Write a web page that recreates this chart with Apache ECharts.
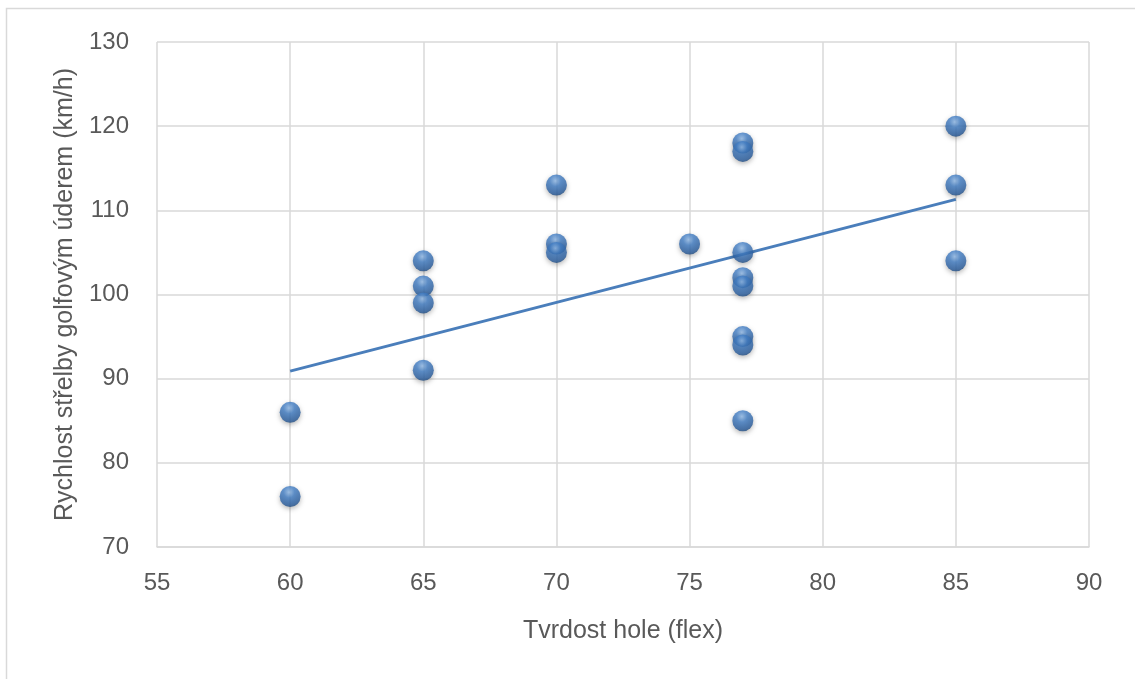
<!DOCTYPE html>
<html>
<head>
<meta charset="utf-8">
<script src="https://cdn.jsdelivr.net/npm/echarts@6/dist/echarts.min.js"></script>
<style>html,body{margin:0;padding:0;background:#fff;}#c{width:1135px;height:679px;}</style>
</head>
<body>
<div id="c"></div>
<script>
// Data
const flexValues  = [60, 60, 65, 65, 65, 65, 70, 70, 70, 75, 77, 77, 77, 77, 77, 77, 77, 77, 85, 85, 85];
const speedValues = [86, 76, 104, 101, 99, 91, 113, 106, 105, 106, 118, 117, 105, 102, 101, 95, 94, 85, 120, 113, 104];
const trendX = [60, 85];
const trendY = [90.9, 111.3];
const xTitle = 'Tvrdost hole (flex)';
const yTitle = 'Rychlost střelby golfovým úderem (km/h)';

const points = flexValues.map((x, i) => [x, speedValues[i]]);
const trend = trendX.map((x, i) => [x, trendY[i]]);

const textColor = '#595959';
const gridColor = '#D9D9D9';
const font = 'Liberation Sans';

const chart = echarts.init(document.getElementById('c'), null, {renderer: 'canvas'});
chart.setOption({
  animation: false,
  backgroundColor: '#fff',
  graphic: [{
    type: 'rect',
    shape: {x: 6.5, y: 8.5, width: 1200, height: 800},
    style: {fill: 'none', stroke: gridColor, lineWidth: 1.5},
    silent: true, z: -1
  }],
  grid: {left: 157, right: 46, top: 42, bottom: 132, containLabel: false},
  xAxis: {
    type: 'value', min: 55, max: 90, interval: 5,
    name: xTitle, nameLocation: 'middle', nameGap: 72,
    nameTextStyle: {color: textColor, fontSize: 25, fontFamily: font},
    axisLine: {show: true, lineStyle: {color: gridColor, width: 1.5}},
    axisTick: {show: false},
    axisLabel: {color: textColor, fontSize: 24, fontFamily: font, margin: 24},
    splitLine: {show: true, lineStyle: {color: gridColor, width: 1.5}}
  },
  yAxis: {
    type: 'value', min: 70, max: 130, interval: 10,
    name: yTitle, nameLocation: 'middle', nameGap: 78, nameRotate: 90,
    nameTextStyle: {color: textColor, fontSize: 25, fontFamily: font},
    axisLine: {show: false},
    axisTick: {show: false},
    axisLabel: {color: textColor, fontSize: 24, fontFamily: font, margin: 28},
    splitLine: {show: true, lineStyle: {color: gridColor, width: 1.5}}
  },
  series: [
    {
      type: 'scatter',
      data: points,
      symbol: 'circle',
      symbolSize: 21,
      z: 3,
      itemStyle: {
        color: {
          type: 'radial', x: 0.45, y: 0.3, r: 0.75,
          colorStops: [
            {offset: 0, color: '#94BDEB'},
            {offset: 0.35, color: '#437FC6'},
            {offset: 0.8, color: '#2A5E9F'},
            {offset: 1, color: '#1C4576'}
          ]
        },
        shadowBlur: 5,
        shadowColor: 'rgba(0,0,0,0.35)',
        shadowOffsetY: 2
      }
    },
    {
      type: 'line',
      data: trend,
      symbol: 'none',
      z: 2,
      lineStyle: {color: '#4A7EBB', width: 3}
    }
  ]
});
</script>
</body>
</html>
